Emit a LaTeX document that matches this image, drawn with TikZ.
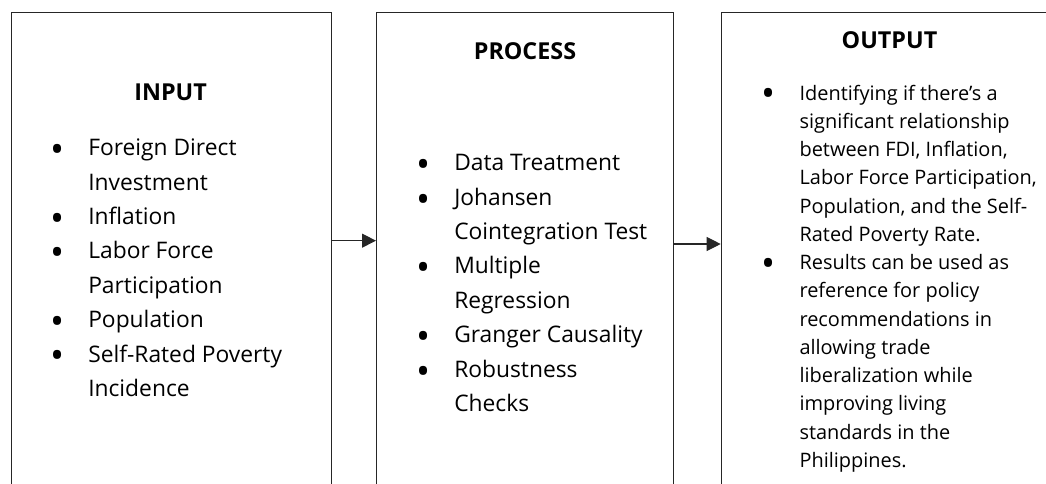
\documentclass[tikz,border=0pt]{standalone}
\usepackage{fontspec}
\setmainfont{Open Sans}
\usetikzlibrary{arrows.meta}

% bullet glyph and list layout helpers
\newcommand\bulmark{{\fontsize{28}{0}\selectfont\raisebox{-5.2pt}{\textbullet}}}
\newcommand\biglist[1]{%
  {\fontsize{17.1}{25.8}\selectfont
   \begin{tabular}[t]{@{}p{28.5pt}@{}l@{}}#1\end{tabular}}}
\newcommand\smalllist[1]{%
  {\fontsize{14.95}{21.2}\selectfont
   \begin{tabular}[t]{@{}p{28.2pt}@{}l@{}}#1\end{tabular}}}

\begin{document}
\begin{tikzpicture}[x=0.75pt,y=-0.75pt,
  stage/.style={draw=black!85, line width=0.8pt, inner sep=0, anchor=north west,
                minimum height=366pt},
  title/.style={font=\fontsize{17.5}{20}\selectfont\bfseries, anchor=base, inner sep=0},
  conn/.style={draw=black!85, line width=0.8pt, -{Triangle[length=10.5pt,width=10.5pt]}},
  list/.style={anchor=base west, inner sep=0}]
\useasboundingbox (0,0) rectangle (1046,483);
\clip (0,0) rectangle (1046,483);

% the three stages (their lower edges run past the frame)
\node[stage, minimum width=239.85pt] (in)   at (10.7,12) {};
\node[stage, minimum width=223pt]    (proc) at (376,12)  {};
\node[stage, minimum width=254.5pt]  (out)  at (720.7,12) {};

% headings
\node[title] (tin)   at (170.6,100) {INPUT};
\node[title] (tproc) at (525,59)    {PROCESS};
\node[title] (tout)  at (889.5,48)  {OUTPUT};

% bullet lists
\node[list] (lin) at (50,155.6) {\biglist{%
  \bulmark & Foreign Direct\\
           & Investment\\
  \bulmark & Inflation\\
  \bulmark & Labor Force\\
           & Participation\\
  \bulmark & Population\\
  \bulmark & Self-Rated Poverty\\
           & Incidence}};

\node[list] (lproc) at (416,170.7) {\biglist{%
  \bulmark & Data Treatment\\
  \bulmark & Johansen\\
           & Cointegration Test\\
  \bulmark & Multiple\\
           & Regression\\
  \bulmark & Granger Causality\\
  \bulmark & Robustness\\
           & Checks}};

\node[list] (lout) at (761.7,100) {\smalllist{%
  \bulmark & Identifying if there’s a\\
           & significant relationship\\
           & between FDI, Inflation,\\
           & Labor Force Participation,\\
           & Population, and the Self-\\
           & Rated Poverty Rate.\\
  \bulmark & Results can be used as\\
           & reference for policy\\
           & recommendations in\\
           & allowing trade\\
           & liberalization while\\
           & improving living\\
           & standards in the\\
           & Philippines.}};

% connectors between the stages
\draw[conn] ([yshift=-171.5pt]in.north east) -- ([yshift=-171.5pt]proc.north west);
\draw[conn] ([yshift=-174pt]proc.north east) -- ([yshift=-174pt]out.north west);
\end{tikzpicture}
\end{document}
